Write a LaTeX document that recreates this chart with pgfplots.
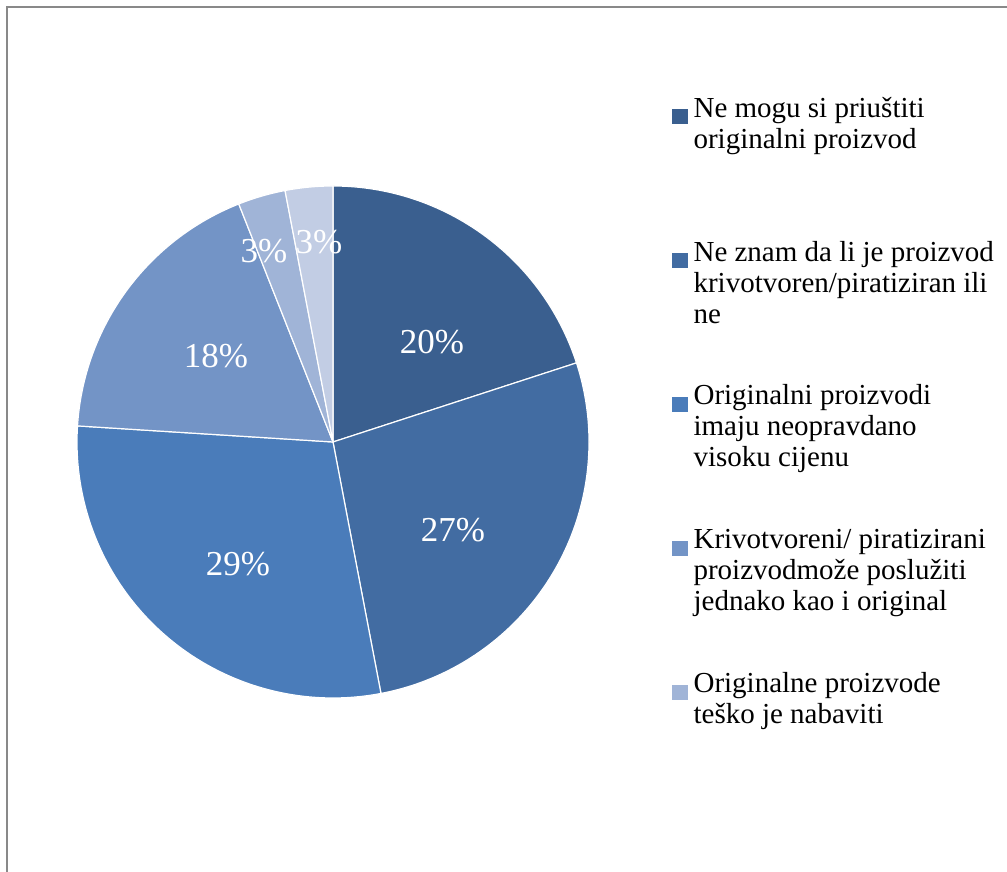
\documentclass[border=0pt]{standalone}
\usepackage{pgfplots}
\pgfplotsset{compat=1.18}
\usepackage{fontspec}
\setmainfont{Liberation Serif}
\definecolor{c1}{HTML}{3A5F8F}
\definecolor{c2}{HTML}{426CA2}
\definecolor{c3}{HTML}{4A7CBA}
\definecolor{c4}{HTML}{7394C6}
\definecolor{c5}{HTML}{A0B4D7}
\definecolor{c6}{HTML}{C2CDE4}
\definecolor{frame}{HTML}{898989}
% slice: start percent, value percent, colour
\newcommand{\slice}[3]{\fill[#3, draw=white, line width=1.2bp] (axis cs:333,430) -- ++({90-3.6*#1}:256bp) arc[start angle={90-3.6*#1}, end angle={90-3.6*(#1+#2)}, radius=256bp] -- cycle;}
\newcommand{\entry}[3]{\vtop{\hbox{\strut #1}\hbox{\strut #2}\hbox{\strut #3}}}
\begin{document}
\begin{tikzpicture}[x=1bp,y=1bp]
\useasboundingbox (0,0) rectangle (1007,872);
\draw[frame, line width=1.8bp] (7,-20) rectangle (1030,865);
\begin{axis}[at={(0,0)}, anchor=origin,
  width=1007bp, height=872bp, scale only axis,
  xmin=0, xmax=1007, ymin=0, ymax=872,
  hide axis, clip=false,
  legend image code/.code={\fill[#1] (0bp,-6bp) rectangle (15bp,8bp);},
  legend style={at={(0.6673,0.893)}, anchor=north west, draw=none, fill=none,
    inner sep=0pt, column sep=4bp, row sep=114bp,
    font=\fontsize{29bp}{31bp}\selectfont,
    cells={anchor=base west, inner sep=2bp}},
]
\slice{0}{20}{c1}
\slice{20}{27}{c2}
\slice{47}{29}{c3}
\slice{76}{18}{c4}
\slice{94}{3}{c5}
\slice{97}{3}{c6}
\begin{scope}[every node/.style={text=white, font=\fontsize{35bp}{40bp}\selectfont}]
\node at (axis cs:432,530) {20\%};
\node at (axis cs:453,342) {27\%};
\node at (axis cs:238,308) {29\%};
\node at (axis cs:216,516) {18\%};
\node at (axis cs:264,621) {3\%};
\node at (axis cs:319,630) {3\%};
\end{scope}
\addlegendimage{c1}
\addlegendentry{\entry{Ne mogu si priuštiti}{originalni proizvod}{}}
\addlegendimage{c2}
\addlegendentry{\entry{Ne znam da li je proizvod}{krivotvoren/piratiziran ili}{ne}}
\addlegendimage{c3}
\addlegendentry{\entry{Originalni proizvodi}{imaju neopravdano}{visoku cijenu}}
\addlegendimage{c4}
\addlegendentry{\entry{Krivotvoreni/ piratizirani}{proizvodmože poslužiti}{jednako kao i original}}
\addlegendimage{c5}
\addlegendentry{\entry{Originalne proizvode}{teško je nabaviti}{}}
\end{axis}
\end{tikzpicture}
\end{document}
